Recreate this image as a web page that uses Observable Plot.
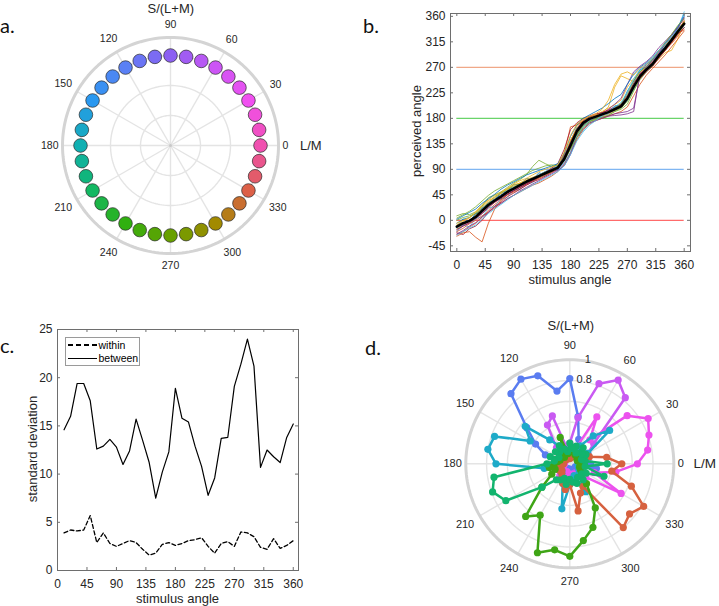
<!DOCTYPE html>
<html><head><meta charset="utf-8">
<script src="https://cdn.jsdelivr.net/npm/d3@7"></script>
<script src="https://cdn.jsdelivr.net/npm/@observablehq/plot@0.6"></script>
<style>
body{margin:0;background:#fff;}
#fig{position:relative;width:719px;height:606px;overflow:hidden;background:#fff;font-family:"Liberation Sans",Arial,sans-serif;color:#262626;}
.lbl{position:absolute;white-space:nowrap;line-height:1;}
</style></head><body><div id="fig"></div>
<script>
// ---------- DATA ----------
// panel a: hue wheel
const hueAngles = [0,10,20,30,40,50,60,70,80,90,100,110,120,130,140,150,160,170,180,190,200,210,220,230,240,250,260,270,280,290,300,310,320,330,340,350];
const hueAnchorAngles = [0,30,60,90,120,150,180,210,240,270,300,330,360];
const hueAnchorColors = ["#f050b0","#f050f0","#cc55f5","#8c60f2","#5a80f5","#2a98f0","#10b0b2","#12b862","#30b010","#68a000","#a28a00","#dc6048","#f050b0"];
const polarTickAngles = [0,30,60,90,120,150,180,210,240,270,300,330];

// panel b: perceived vs stimulus angle
const stimAngles = [0,10,20,30,40,50,60,70,80,90,100,110,120,130,140,150,160,170,180,190,200,210,220,230,240,250,260,270,280,290,300,310,320,330,340,350,360];
const meanPerceived = [-11,-5,-1,6,17,27,35,42,50,56,62,68,73,78,83,88,93,108,132,157,172,179,183,187,191,196,201,215,236,254,266,276,291,304,318,333,347];
const subj1 = [-5,2,5,12,22,30,38,45,52,58,63,70,75,80,86,89,92,112,138,160,174,180,183,186,190,195,199,212,232,255,268,278,293,305,320,338,365];
const subj2 = [-25,-20,-12,-5,5,18,28,36,45,50,55,62,68,75,80,86,92,105,128,150,168,176,181,184,188,194,200,218,240,258,270,280,292,300,312,325,340];
const subj3 = [-15,-8,0,10,25,35,40,47,55,62,66,70,74,78,82,87,94,112,140,165,178,182,185,190,200,235,255,250,245,262,270,278,290,302,315,328,345];
const subj4 = [-18,-10,-5,2,12,24,32,40,48,54,60,66,72,76,82,86,90,100,120,150,168,176,180,182,184,185,186,188,192,260,275,285,298,310,322,335,350];
const subj5 = [8,12,10,15,25,40,45,50,58,66,72,80,95,106,100,95,92,105,125,150,168,175,178,180,185,192,198,210,230,248,262,272,288,300,316,332,350];
const subj6 = [-20,-8,-12,4,6,22,24,38,40,54,54,66,66,78,78,88,88,102,120,148,158,172,176,186,188,200,202,222,242,264,270,284,294,310,318,332,340];
const subj7 = [-22,-25,-15,-10,0,15,25,32,42,48,55,62,68,72,78,84,90,110,140,162,176,182,186,190,195,200,205,220,242,258,268,278,292,306,320,334,352];
const subj8 = [-10,2,-2,12,14,32,34,50,50,64,62,74,72,84,80,92,90,116,132,162,168,182,180,190,190,202,203,228,246,266,270,284,292,314,320,340,346];
const subj9 = [-28,-22,-20,-30,-38,-5,20,35,45,52,58,65,70,74,80,85,93,118,165,168,175,178,182,186,192,196,202,218,238,252,264,275,288,300,315,330,336];
const subj10 = [-5,0,5,15,28,36,44,50,56,62,66,72,76,80,86,90,96,115,142,160,172,180,186,192,198,204,212,235,250,262,270,275,285,296,300,320,350];
const subj11 = [-12,-8,-2,5,14,26,34,40,46,52,58,64,70,78,84,90,96,114,136,156,170,178,182,188,196,205,215,240,262,272,280,290,305,316,328,342,355];
const subj12 = [0,5,8,12,20,30,42,48,54,60,64,68,72,76,82,86,94,112,130,152,166,174,178,182,186,192,196,205,228,250,264,274,290,306,320,334,346];
const subj13 = [-14,-6,0,6,16,26,34,42,50,56,62,68,74,80,86,92,96,110,130,148,165,176,182,186,190,195,200,212,232,256,268,278,294,308,322,338,368];
const subj14 = [-16,-10,-4,4,12,22,32,38,46,52,58,64,70,76,84,92,100,125,160,172,180,184,188,190,194,198,204,216,236,250,262,272,286,300,314,328,340];
const subj15 = [2,8,14,20,30,38,46,55,62,68,74,80,84,88,92,96,100,118,148,168,180,186,192,198,206,215,222,240,258,270,278,288,300,312,326,342,360];
const subj16 = [-20,-14,-6,0,8,14,22,30,38,44,50,56,62,66,72,78,86,98,118,142,160,170,176,180,184,188,192,200,220,240,256,268,280,292,306,320,334];
const subj17 = [-8,-2,4,14,24,32,40,48,56,64,70,74,80,86,90,94,98,120,150,170,178,184,188,196,212,240,258,262,256,268,276,286,298,310,322,336,352];
const subj18 = [-24,-18,-10,-4,6,14,24,30,38,44,52,58,64,70,76,82,88,96,116,146,162,172,176,180,184,188,190,192,198,255,270,282,296,312,326,340,358];
const subj19 = [4,10,16,24,34,44,52,58,64,70,76,82,88,92,96,98,96,108,126,146,164,174,180,186,190,198,206,224,246,262,272,284,300,314,328,344,356];
const subj20 = [-26,-20,-14,-8,2,12,20,28,36,44,50,56,62,68,74,80,86,96,116,140,156,168,176,184,192,200,208,226,250,266,276,286,300,312,324,336,344];
const subjectColors = ["#0072BD","#D95319","#EDB120","#7E2F8E","#77AC30","#4DBEEE","#A2142F"];
const refLevels = [0,90,180,270];
const refColors = ["#ff6b6b","#80b6f2","#6ad46a","#f0a888"];
const ticksB_X = [0,45,90,135,180,225,270,315,360];
const ticksB_Y = [-45,0,45,90,135,180,225,270,315,360];

// panel c: standard deviations
const sdAngles = [10,20,30,40,50,60,70,80,90,100,110,120,130,140,150,160,170,180,190,200,210,220,230,240,250,260,270,280,290,300,310,320,330,340,350,360];
const sdWithin = [3.9,4.2,4.1,4.2,5.7,2.9,3.9,2.8,2.5,2.8,3.1,2.9,2.2,1.6,1.8,2.7,2.9,2.6,2.8,3.1,3.2,3.4,2.5,1.8,2.8,3.0,2.5,4.0,3.9,3.5,2.4,2.2,3.3,2.3,2.6,3.1];
const sdBetween = [14.6,16.0,19.4,19.4,17.6,12.6,12.9,13.6,12.8,11.0,12.4,15.7,13.5,11.2,7.5,10.2,12.3,18.9,15.8,15.4,12.9,10.8,7.8,9.6,13.7,13.8,19.1,21.4,24.0,21.2,10.7,12.5,11.8,11.2,13.8,15.2];
const ticksC_X = [0,45,90,135,180,225,270,315,360];
const ticksC_Y = [0,5,10,15,20,25];
const legendLabels = ["within","between"];

// panel d: response distributions (polar)
const roseAngles = [0,10,20,30,40,50,60,70,80,90,100,110,120,130,140,150,160,170,180,190,200,210,220,230,240,250,260,270,280,290,300,310,320,330,340,350];
const roseBlue = [.2,.1,.08,.1,.12,.1,.15,.25,.46,.82,.71,.90,.94,.88,.54,.38,.25,.15,.1,.12,.1,.08,.1,.08,.06,.05,.06,.05,.06,.07,.08,.07,.08,.06,.07,.26];
const roseLavender = [.1,.12,.15,.2,.3,.83,.93,.82,.45,.2,.15,.49,.43,.2,.12,.1,.08,.1,.08,.1,.12,.1,.08,.12,.15,.12,.1,.12,.15,.12,.1,.15,.12,.15,.12,.1];
const roseMagenta = [.65,.76,.81,.87,.72,.3,.52,.15,.12,.1,.12,.1,.08,.1,.12,.1,.08,.06,.05,.06,.08,.1,.12,.15,.1,.08,.1,.12,.1,.15,.12,.15,.2,.57,.25,.45];
const roseCyan = [.1,.12,.15,.2,.5,.35,.2,.15,.12,.1,.12,.15,.2,.3,.56,.44,.77,.80,.71,.25,.15,.12,.1,.12,.15,.2,.44,.2,.15,.12,.31,.15,.12,.1,.1,.08];
const roseOrange = [.50,.36,.2,.15,.12,.1,.08,.08,.06,.05,.06,.08,.06,.05,.06,.08,.1,.08,.06,.08,.1,.12,.1,.12,.15,.2,.25,.2,.46,.3,.25,.80,.75,.82,.63,.41];
const roseGrass = [.12,.1,.08,.08,.1,.12,.1,.12,.15,.12,.1,.27,.1,.08,.1,.12,.1,.12,.15,.2,.15,.2,.35,.66,.57,.91,.84,.89,.75,.65,.49,.25,.15,.12,.1,.1];
const roseTeal = [.36,.15,.12,.18,.15,.2,.12,.18,.15,.2,.12,.15,.2,.15,.18,.12,.2,.15,.22,.74,.79,.71,.35,.2,.18,.15,.2,.15,.18,.2,.15,.2,.15,.18,.35,.15];
const roseColors = ["#5a7cf0","#c95af2","#ec52ee","#1eaac8","#d6613f","#3fa516","#12b46e"];
const rGridValues = [0.2,0.4,0.6,0.8];
const rTickLabels = [0.8,1];

// ---------- LAYOUT HELPERS ----------
const fig = document.getElementById("fig");
const FONT = '"Liberation Sans", Arial, sans-serif';
const INK = "#262626";
const FRAME = "#6e6e6e";
const rad = a => a * Math.PI / 180;

function put(el, left, top) { el.style.position = "absolute"; el.style.left = left + "px"; el.style.top = top + "px"; fig.appendChild(el); return el; }
function text(str, x, y, size, opts = {}) {
  const d = document.createElement("div");
  d.className = "lbl";
  d.textContent = str;
  d.style.fontSize = size + "px";
  d.style.fontFamily = opts.family || FONT;
  d.style.color = opts.color || INK;
  const ax = opts.anchor === "start" ? "0" : "-50%";
  d.style.transform = `translate(${ax},-50%)` + (opts.rotate ? ` rotate(${opts.rotate}deg)` : "");
  return put(d, x, y);
}
function letter(str, x, baseline) {
  const d = document.createElement("div");
  d.className = "lbl";
  d.textContent = str;
  d.style.fontSize = "20px";
  d.style.fontFamily = "Lato, 'Open Sans', sans-serif";
  d.style.color = "#111";
  return put(d, x, baseline - 0.887 * 20);
}

function labelR(a, ringPx, unit, fs, vpad) {
  const half = String(a).length * 0.556 * fs / 2;
  return (ringPx + 4 + half * Math.abs(Math.cos(rad(a))) + vpad * Math.abs(Math.sin(rad(a)))) / unit;
}
function circle(R, stroke, w) {
  return Plot.line(d3.range(0, 361, 2), {x: a => R * Math.cos(rad(a)), y: a => R * Math.sin(rad(a)), stroke, strokeWidth: w});
}
function polarGrid(rings, outer, unit, fs, vpad) {
  return [
    ...rings.map(R => circle(R, "#e4e4e4", 1.4)),
    Plot.link(polarTickAngles, {x1: () => 0, y1: () => 0, x2: a => outer * Math.cos(rad(a)), y2: a => outer * Math.sin(rad(a)), stroke: "#e4e4e4", strokeWidth: 1.4}),
    circle(outer, "#d4d4d4", 3),
    Plot.text(polarTickAngles, {
      x: a => labelR(a, outer * unit, unit, fs, vpad) * Math.cos(rad(a)),
      y: a => labelR(a, outer * unit, unit, fs, vpad) * Math.sin(rad(a)),
      text: a => String(a), fontSize: fs, fill: INK
    })
  ];
}
function polarPlot(P, marks, extra = {}) {
  return Plot.plot({
    width: P.w, height: P.h, margin: 0,
    x: {domain: [-P.cx / P.unit, (P.w - P.cx) / P.unit], axis: null},
    y: {domain: [-(P.h - P.cy) / P.unit, P.cy / P.unit], axis: null},
    style: {fontFamily: FONT, fontSize: "11px", background: "transparent", color: INK, overflow: "visible"},
    marks, ...extra
  });
}
function inwardTicks(xt, yt, pw, ph, len) {
  return [
    Plot.tickX(xt, {x: d => d, insetTop: ph - len, stroke: FRAME}),
    Plot.tickX(xt, {x: d => d, insetBottom: ph - len, stroke: FRAME}),
    Plot.tickY(yt, {y: d => d, insetRight: pw - len, stroke: FRAME}),
    Plot.tickY(yt, {y: d => d, insetLeft: pw - len, stroke: FRAME})
  ];
}

// ---------- PANEL A ----------
const PA = {w: 360, h: 290, cx: 170, cy: 145, unit: 90};
const svgA = polarPlot(PA, [
  ...polarGrid([1/3, 2/3, 1], 1.2, PA.unit, 10.5, 8.5),
  Plot.dot([0], {x: () => 0, y: () => 0, r: 1.5, fill: "#c8c8c8"}),
  Plot.dot(hueAngles, {x: a => Math.cos(rad(a)), y: a => Math.sin(rad(a)), r: 6.8, fill: a => a, stroke: "#2a2a2a", strokeWidth: 0.7})
], {color: {type: "linear", domain: hueAnchorAngles, range: hueAnchorColors, interpolate: "rgb"}});
put(svgA, 0, 0);
text("S/(L+M)", 170.8, 7.5, 13);
text("L/M", 300, 145, 13, {anchor: "start"});

// ---------- PANEL B ----------
const PB = {w: 359, h: 290, ml: 90, mr: 29, mt: 13, mb: 39};
const pwB = PB.w - PB.ml - PB.mr, phB = PB.h - PB.mt - PB.mb;
const subjects = [subj1,subj2,subj3,subj4,subj5,subj6,subj7,subj8,subj9,subj10,subj11,subj12,subj13,subj14,subj15,subj16,subj17,subj18,subj19,subj20];
const svgB = Plot.plot({
  width: PB.w, height: PB.h, marginLeft: PB.ml, marginRight: PB.mr, marginTop: PB.mt, marginBottom: PB.mb,
  x: {domain: [-10, 370], ticks: ticksB_X, tickSize: 0, tickPadding: 9, tickFormat: d => String(d), label: null},
  y: {domain: [-55, 365], ticks: ticksB_Y, tickSize: 0, tickPadding: 5, tickFormat: d => String(d), label: null},
  style: {fontFamily: FONT, fontSize: "12px", background: "transparent", color: INK, overflow: "visible"},
  marks: [
    ...refLevels.map((v, i) => Plot.ruleY([v], {y: d => d, x1: () => 0, x2: () => 360, stroke: refColors[i], strokeWidth: 1.1})),
    ...subjects.map((vals, i) => Plot.line(vals, {x: (d, j) => stimAngles[j], y: d => d, stroke: subjectColors[i % 7], strokeWidth: 0.8})),
    Plot.line(meanPerceived, {x: (d, j) => stimAngles[j], y: d => d, stroke: "#000", strokeWidth: 2.6}),
    Plot.frame({stroke: FRAME}),
    ...inwardTicks(ticksB_X, ticksB_Y, pwB, phB, 3)
  ]
});
put(svgB, 360, 0);
text("stimulus angle", 570, 279, 13);
text("perceived angle", 415.5, 131, 13, {rotate: -90});

// ---------- PANEL C ----------
const PC = {w: 360, h: 306, ml: 57, mr: 62, mt: 29, mb: 36};
const pwC = PC.w - PC.ml - PC.mr, phC = PC.h - PC.mt - PC.mb;
const svgC = Plot.plot({
  width: PC.w, height: PC.h, marginLeft: PC.ml, marginRight: PC.mr, marginTop: PC.mt, marginBottom: PC.mb,
  x: {domain: [0, 368], ticks: ticksC_X, tickSize: 0, tickPadding: 9, tickFormat: d => String(d), label: null},
  y: {domain: [0, 25], ticks: ticksC_Y, tickSize: 0, tickPadding: 5, tickFormat: d => String(d), label: null},
  style: {fontFamily: FONT, fontSize: "12px", background: "transparent", color: INK, overflow: "visible"},
  marks: [
    Plot.line(sdWithin, {x: (d, j) => sdAngles[j], y: d => d, stroke: "#000", strokeWidth: 1.3, strokeDasharray: "4,2.5"}),
    Plot.line(sdBetween, {x: (d, j) => sdAngles[j], y: d => d, stroke: "#000", strokeWidth: 1.2}),
    Plot.frame({stroke: FRAME}),
    ...inwardTicks(ticksC_X, ticksC_Y, pwC, phC, 3)
  ]
});
put(svgC, 0, 300);
text("stimulus angle", 177.5, 597.5, 13);
text("standard deviation", 31.7, 449, 13, {rotate: -90});
// legend
const box = document.createElement("div");
box.style.cssText = "width:75px;height:29px;border:1px solid #9a9a9a;background:#fff;box-sizing:border-box;";
put(box, 65, 337);
const dash = document.createElement("div");
dash.style.cssText = "width:29px;height:1.5px;background:repeating-linear-gradient(to right,#000 0 5px,transparent 5px 8px);";
put(dash, 68, 344.3);
const solid = document.createElement("div");
solid.style.cssText = "width:29px;height:1.3px;background:#000;";
put(solid, 68, 357.7);
text(legendLabels[0], 98.5, 345, 10.5, {anchor: "start", color: "#000"});
text(legendLabels[1], 98.5, 358.3, 10.5, {anchor: "start", color: "#000"});

// ---------- PANEL D ----------
const PD = {w: 359, h: 306, cx: 209.3, cy: 163.3, unit: 104};
const roseSeries = [roseBlue, roseLavender, roseMagenta, roseCyan, roseOrange, roseGrass, roseTeal];
const roseMarks = roseSeries.flatMap((vals, i) => {
  const pts = vals.map((r, j) => ({a: roseAngles[j], r}));
  const closed = pts.concat([pts[0]]);
  return [
    Plot.line(closed, {x: d => d.r * Math.cos(rad(d.a)), y: d => d.r * Math.sin(rad(d.a)), stroke: roseColors[i], strokeWidth: 2.5, strokeLinejoin: "round"}),
    Plot.dot(pts, {x: d => d.r * Math.cos(rad(d.a)), y: d => d.r * Math.sin(rad(d.a)), r: 3.6, fill: roseColors[i]})
  ];
});
const svgD = polarPlot(PD, [
  ...polarGrid(rGridValues, 1, PD.unit, 11, 10),
  Plot.text(rTickLabels, {x: r => r * Math.cos(rad(80)), y: r => r * Math.sin(rad(80)) + 0.02, text: r => String(r), fontSize: 11, fill: INK}),
  ...roseMarks
]);
put(svgD, 360, 300);
text("S/(L+M)", 570.8, 325, 13);
text("L/M", 693.5, 463.5, 13.5, {anchor: "start"});

// ---------- PANEL LETTERS ----------
letter("a.", 0, 33);
letter("b.", 363, 33);
letter("c.", 0, 353);
letter("d.", 365, 355);
</script></body></html>
